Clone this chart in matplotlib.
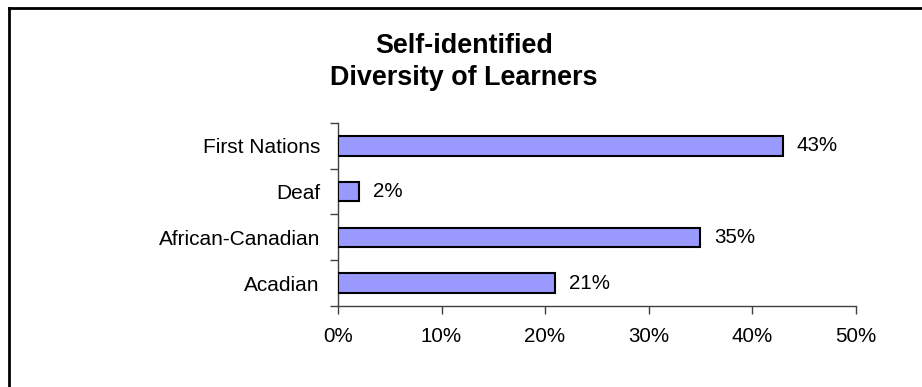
import matplotlib
matplotlib.use("Agg")
import matplotlib.pyplot as plt
from matplotlib.lines import Line2D
from matplotlib.ticker import FixedLocator, NullFormatter

plt.rcParams['font.family'] = ['Liberation Sans', 'DejaVu Sans']

categories = ["First Nations", "Deaf", "African-Canadian", "Acadian"]
shares = [0.43, 0.02, 0.35, 0.21]
x_ticks = [0.0, 0.1, 0.2, 0.3, 0.4, 0.5]
x_tick_labels = ["0%", "10%", "20%", "30%", "40%", "50%"]
title_lines = ["Self-identified", "Diversity of Learners"]

W, H, DPI = 922, 387, 100
fig = plt.figure(figsize=(W / DPI, H / DPI), dpi=DPI)
fig.patch.set_facecolor("white")

left, right, top, bottom = 338, 855.5, 123, 306
ax = fig.add_axes([left / W, 1 - bottom / H, (right - left) / W, (bottom - top) / H])

n = len(categories)
ypos = [n - 1 - i for i in range(n)]
ax.barh(ypos, shares, height=0.43, color="#9999FF", edgecolor="black", linewidth=1.5, zorder=3)

for y, v in zip(ypos, shares):
    ax.annotate(f"{round(v * 100):d}%", xy=(v, y), xytext=(10, 0), textcoords="offset points",
                va="center", ha="left", fontsize=14.8, color="black")

ax.set_xlim(0, 0.5)
ax.set_ylim(-0.5, n - 0.5)

ax.set_xticks(x_ticks)
ax.set_xticklabels(x_tick_labels, fontsize=14.8)
ax.tick_params(axis="x", direction="out", length=6, width=1, color="#404040", pad=9)

# category labels centred on the bars, tick marks at the category boundaries
ax.set_yticks(ypos)
ax.set_yticklabels(categories, fontsize=15)
ax.tick_params(axis="y", which="major", length=0, pad=13)
ax.yaxis.set_minor_locator(FixedLocator([k - 0.5 for k in range(n + 1)]))
ax.yaxis.set_minor_formatter(NullFormatter())
ax.tick_params(axis="y", which="minor", direction="out", length=6, width=1, color="#404040")

for side in ("top", "right"):
    ax.spines[side].set_visible(False)
for side in ("left", "bottom"):
    ax.spines[side].set_color("#404040")
    ax.spines[side].set_linewidth(1)

# two-line bold heading
cx = 464 / W
fig.text(cx, 1 - 53 / H, title_lines[0], ha="center", va="baseline", fontsize=19.4, fontweight="bold")
fig.text(cx, 1 - 85 / H, title_lines[1], ha="center", va="baseline", fontsize=19.4, fontweight="bold")

# chart-area frame along the top and left edges
fig.add_artist(Line2D([9 / W, 1.0], [1 - 8 / H, 1 - 8 / H], transform=fig.transFigure,
                      color="black", linewidth=2))
fig.add_artist(Line2D([9 / W, 9 / W], [0.0, 1 - 8 / H], transform=fig.transFigure,
                      color="black", linewidth=2))

fig.savefig("out.png", dpi=DPI, facecolor="white")
